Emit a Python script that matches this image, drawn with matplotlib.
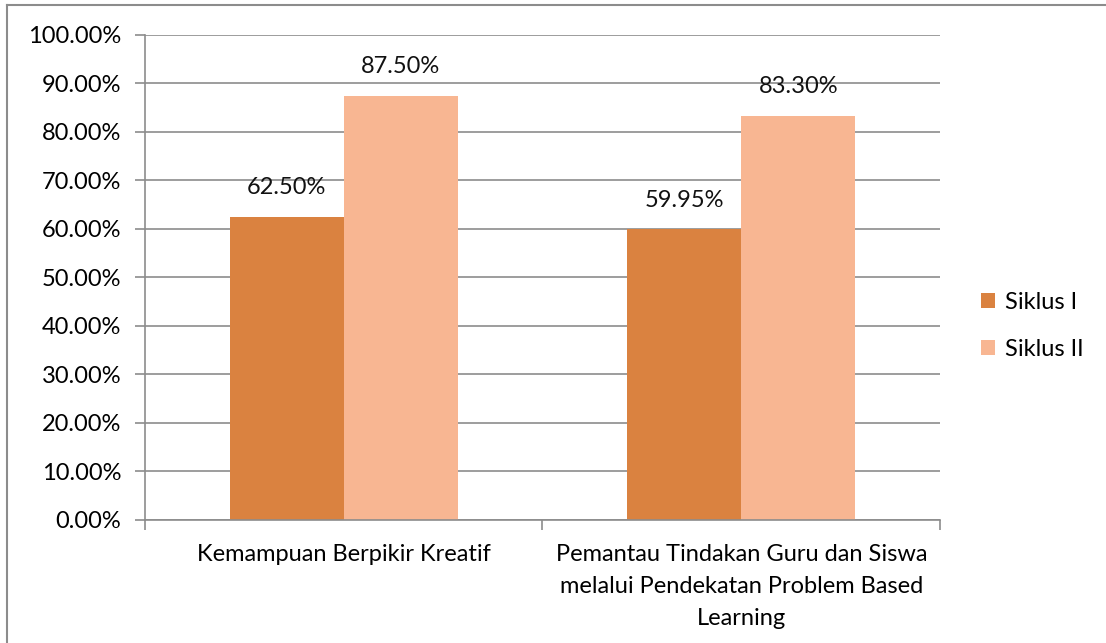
import numpy as np
import matplotlib.pyplot as plt
from matplotlib.lines import Line2D
from matplotlib.ticker import FuncFormatter

categories = ['Kemampuan Berpikir Kreatif',
              'Pemantau Tindakan Guru dan Siswa\nmelalui Pendekatan Problem Based\nLearning']
series_names = ['Siklus I', 'Siklus II']
siklus_1 = [62.50, 59.95]
siklus_2 = [87.50, 83.30]
colors = ['#DA8240', '#F8B692']

plt.rcParams['font.family'] = ['Lato', 'DejaVu Sans']


def main():
    fig = plt.figure(figsize=(11.06, 6.43), dpi=100)
    fig.patch.set_facecolor('white')
    ax = fig.add_axes([0.131, 0.1913, 0.719, 0.7543])

    x = np.arange(len(categories))
    width = 0.287
    grid_color = '#8C8C8C'
    fs = 17

    for i, (vals, name) in enumerate(zip([siklus_1, siklus_2], series_names)):
        pos = x + (i - 0.5) * width
        ax.bar(pos, vals, width, color=colors[i], label=name, zorder=2)
        for p, v in zip(pos, vals):
            ax.text(p, v + 6.0, '%.2f%%' % v, ha='center', va='center', fontsize=fs, color='#111111')

    ax.set_xlim(-0.5, len(categories) - 0.5)
    ax.set_ylim(0, 100)
    ax.set_yticks(np.arange(0, 101, 10))
    ax.yaxis.set_major_formatter(FuncFormatter(lambda v, p: '%.2f%%' % v))
    ax.yaxis.grid(True, color=grid_color, linewidth=1.2, zorder=0)

    # category labels centered, boundary tick marks
    ax.set_xticks(x)
    ax.set_xticklabels(categories, fontsize=fs, linespacing=1.66, va='top')
    ax.tick_params(axis='x', length=0, pad=17)
    ax.set_xticks(np.arange(-0.5, len(categories), 1), minor=True)
    ax.tick_params(axis='x', which='minor', length=7, width=1.2, color=grid_color, direction='out')
    ax.tick_params(axis='y', length=7, width=1.2, color=grid_color, direction='out', labelsize=fs, pad=10)

    for side in ['top', 'right']:
        ax.spines[side].set_visible(False)
    for side in ['left', 'bottom']:
        ax.spines[side].set_color(grid_color)
        ax.spines[side].set_linewidth(1.2)

    ax.legend(loc='center left', bbox_to_anchor=(1.025, 0.4), frameon=False, fontsize=fs,
              handlelength=0.6, handleheight=0.6, handletextpad=0.4, labelspacing=1.1)

    # outer chart border (left and top visible)
    fig.add_artist(Line2D([7 / 1106, 7 / 1106], [0, 1 - 5 / 643], color='#8C8C8C', linewidth=1.5))
    fig.add_artist(Line2D([7 / 1106, 1], [1 - 5 / 643, 1 - 5 / 643], color='#8C8C8C', linewidth=1.5))

    fig.savefig('out.png', dpi=100)


if __name__ == '__main__':
    main()
